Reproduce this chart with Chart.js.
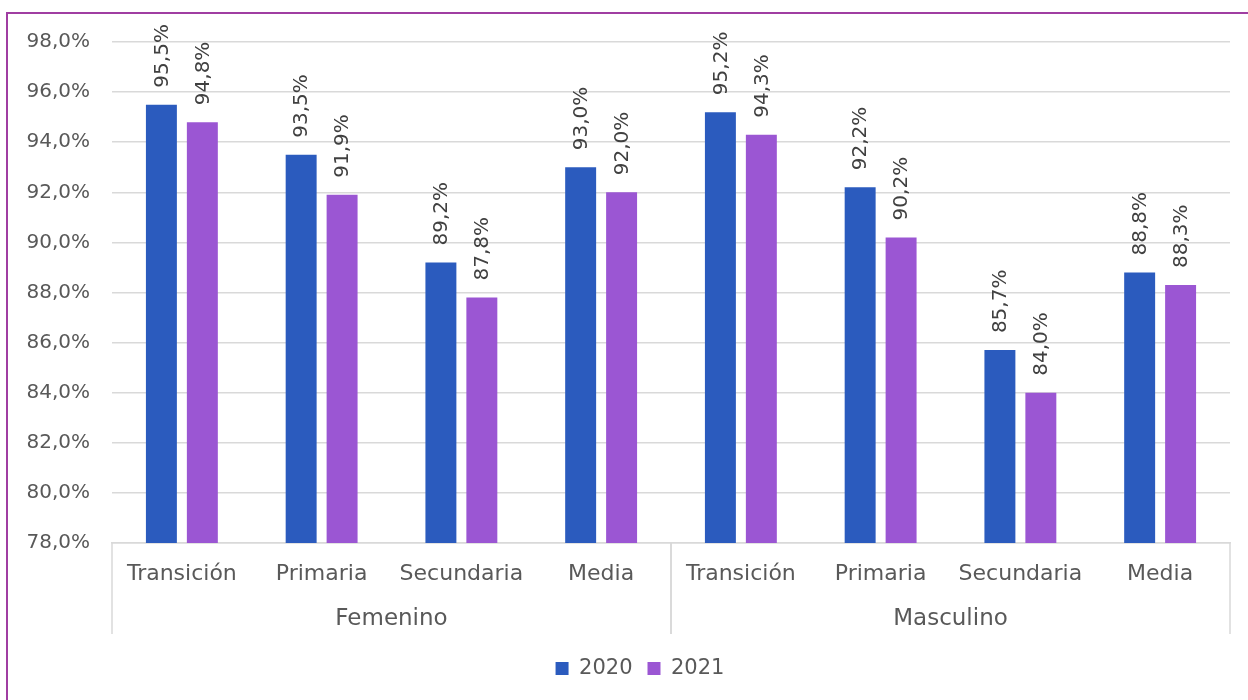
<!DOCTYPE html>
<html>
<head>
<meta charset="utf-8">
<script src="https://cdn.jsdelivr.net/npm/chart.js@4.4.1/dist/chart.umd.min.js"></script>
<style>
  html, body { margin: 0; padding: 0; background: #fff; overflow: hidden; }
  #frame { position: absolute; left: 6px; top: 12px; width: 1300px; height: 800px;
           border-left: 2px solid #a03ea2; border-top: 2px solid #a03ea2; pointer-events: none; }
  canvas { display: block; }
</style>
</head>
<body>
<canvas id="chart" width="1248" height="700"></canvas>
<div id="frame"></div>
<script>
const levels = ['Transición', 'Primaria', 'Secundaria', 'Media']
const groups = ['Femenino', 'Masculino']
const labels2020 = '2020'
const labels2021 = '2021'
const values2020 = [95.5, 93.5, 89.2, 93.0, 95.2, 92.2, 85.7, 88.8]
const values2021 = [94.8, 91.9, 87.8, 92.0, 94.3, 90.2, 84.0, 88.3]
const yTicks = [78, 80, 82, 84, 86, 88, 90, 92, 94, 96, 98]

const FONT = 'DejaVu Sans'
const TEXT = '#595959'
const GRID = '#d9d9d9'

function fmt(v) {
    return v.toFixed(1).replace('.', ',') + '%'
}

let categories = []
groups.forEach(g => levels.forEach(l => categories.push(l)))

// value labels turned 90 degrees above each bar
const barLabels = {
    id: 'barLabels',
    afterDatasetsDraw(chart) {
        const ctx = chart.ctx
        ctx.save()
        ctx.font = '20px ' + FONT
        ctx.fillStyle = '#404040'
        ctx.textAlign = 'left'
        ctx.textBaseline = 'middle'
        chart.data.datasets.forEach((ds, i) => {
            chart.getDatasetMeta(i).data.forEach((bar, j) => {
                ctx.save()
                ctx.translate(bar.x + 1, bar.y - 17)
                ctx.rotate(-Math.PI / 2)
                ctx.fillText(fmt(ds.data[j]), 0, 0)
                ctx.restore()
            })
        })
        ctx.restore()
    }
}

// second level of the x axis: Femenino / Masculino with separators
const groupAxis = {
    id: 'groupAxis',
    afterLayout(chart) {
        // nudge the legend a bit to the right like the original
        chart.legend.left += 25
        chart.legend.right += 25
    },
    afterDraw(chart) {
        const ctx = chart.ctx
        const x = chart.scales.x
        const area = chart.chartArea
        const n = levels.length
        const half = (x.getPixelForValue(1) - x.getPixelForValue(0)) / 2
        ctx.save()
        ctx.strokeStyle = GRID
        ctx.lineWidth = 1.5
        ctx.fillStyle = TEXT
        ctx.font = '23px ' + FONT
        ctx.textAlign = 'center'
        ctx.textBaseline = 'middle'
        groups.forEach((g, gi) => {
            const left = x.getPixelForValue(gi * n) - half
            const right = x.getPixelForValue(gi * n + n - 1) + half
            ctx.beginPath()
            ctx.moveTo(left, area.bottom)
            ctx.lineTo(left, area.bottom + 91)
            ctx.moveTo(right, area.bottom)
            ctx.lineTo(right, area.bottom + 91)
            ctx.stroke()
            ctx.fillText(g, (left + right) / 2, area.bottom + 76)
        })
        ctx.restore()
    }
}

window.onload = () => {
    const ctx = document.getElementById('chart').getContext('2d')
    new Chart(ctx, {
        type: 'bar',
        data: {
            labels: categories,
            datasets: [{
                label: labels2020,
                data: values2020,
                backgroundColor: '#2b5bbe',
                categoryPercentage: 0.586,
                barPercentage: 0.756
            }, {
                label: labels2021,
                data: values2021,
                backgroundColor: '#9b56d3',
                categoryPercentage: 0.586,
                barPercentage: 0.756
            }]
        },
        options: {
            responsive: false,
            animation: false,
            layout: { padding: { top: 42, right: 18, bottom: 11, left: 0 } },
            scales: {
                x: {
                    grid: { display: false, drawTicks: false },
                    border: { display: true, color: GRID, width: 1.5 },
                    ticks: { color: TEXT, font: { family: FONT, size: 22 }, padding: 18, maxRotation: 0, autoSkip: false },
                    afterFit: s => { s.height = 100 }
                },
                y: {
                    min: 78,
                    max: 98,
                    afterBuildTicks: s => { s.ticks = yTicks.map(v => ({ value: v })) },
                    grid: { color: GRID, lineWidth: 1.5, drawTicks: false },
                    border: { display: false },
                    ticks: { color: TEXT, font: { family: FONT, size: 20 }, padding: 22, callback: v => fmt(v) },
                    afterFit: s => { s.width = 112 }
                }
            },
            plugins: {
                legend: {
                    position: 'bottom',
                    labels: { color: TEXT, font: { family: FONT, size: 21 }, boxWidth: 13, boxHeight: 13, padding: 15 }
                },
                tooltip: { enabled: false }
            }
        },
        plugins: [barLabels, groupAxis]
    })
}
</script>
</body>
</html>
